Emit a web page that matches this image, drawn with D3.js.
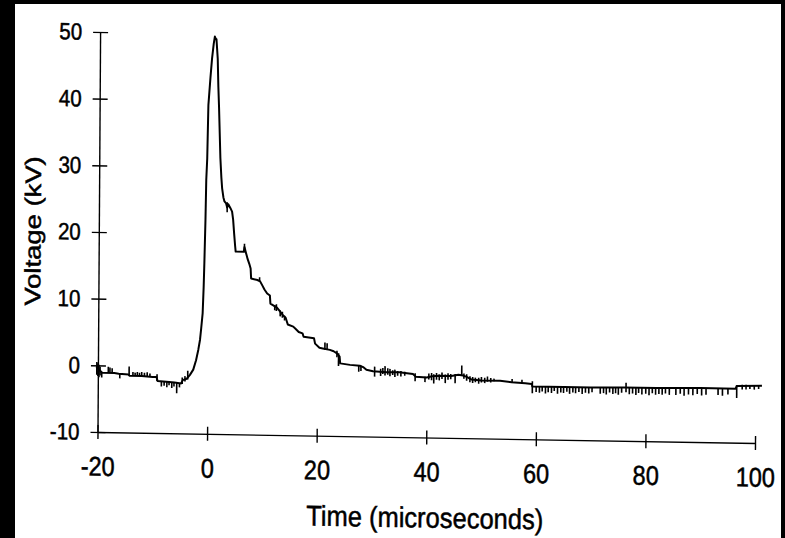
<!DOCTYPE html>
<html>
<head>
<meta charset="utf-8">
<script src="https://cdn.jsdelivr.net/npm/d3@7"></script>
<style>
  html, body { margin: 0; padding: 0; background: #000; }
  svg { display: block; }
  text { font-family: "Liberation Sans", Arial, Helvetica, sans-serif; fill: #000; stroke: #000; stroke-width: 0.45px; }
</style>
</head>
<body>
<div id="chart"></div>
<script>
// Voltage pulse
var timeUs = [
  -20.3, -19.9, -19.5, -19.2, -17.0, -16.2, -14.4, -14.2, -12.0, -10.0,
  -9.3, -9.1, -7.5, -6.0, -4.8, -4.5, -3.8, -3.2, -2.6, -2.1,
  -1.7, -1.4, -1.2, -0.95, -0.8, -0.7, -0.55, -0.45, -0.3, -0.15,
  0.2, 0.46, 0.75, 0.95, 1.1, 1.25, 1.5, 1.65, 1.8, 2.1,
  2.3, 2.45, 2.7, 2.9, 3.2, 3.4, 3.6, 4.0, 4.3, 4.5,
  4.7, 4.9, 5.0, 6.5, 6.6, 6.9, 7.2, 7.5, 7.75, 7.85,
  9.0, 9.5, 9.9, 10.3, 10.8, 11.3, 11.4, 12.0, 12.6, 13.2,
  13.8, 14.2, 14.6, 15.6, 16.1, 16.6, 17.3, 17.5, 19.4, 19.6,
  20.4, 21.0, 22.3, 23.0, 23.6, 24.1, 24.2, 26.0, 27.8, 28.4,
  29.0, 30.2, 32.7, 35.0, 36.4, 37.5, 38.0, 40.0, 41.0, 42.4,
  44.5, 45.8, 46.6, 47.3, 48.2, 50.0, 53.4, 55.5, 58.0, 59.2,
  59.3, 65.0, 70.0, 76.0, 82.0, 90.0, 96.4, 96.6, 101.2
];
var voltKV = [
  -0.2, -0.5, -0.9, -1.1, -1.1, -1.2, -1.3, -1.5, -1.5, -1.6,
  -1.6, -2.2, -2.3, -2.4, -2.5, -2.0, -1.8, -1.2, -0.4, 1.0,
  2.6, 4.1, 5.8, 8.1, 12.0, 15.6, 22.0, 28.1, 31.3, 39.3,
  43.5, 46.3, 48.5, 49.6, 49.3, 49.2, 46.3, 42.0, 38.9, 31.4,
  28.5, 26.9, 25.5, 24.9, 24.6, 24.0, 24.5, 23.9, 23.4, 22.2,
  20.1, 18.2, 17.4, 17.4, 18.1, 17.2, 16.3, 15.6, 14.9, 13.4,
  13.2, 13.0, 12.4, 11.8, 11.2, 10.9, 9.7, 9.4, 9.1, 8.5,
  7.9, 7.6, 6.6, 6.3, 5.9, 5.5, 5.3, 4.8, 4.6, 3.8,
  3.2, 3.1, 2.9, 2.7, 2.4, 1.9, 0.9, 0.7, 0.6, 0.4,
  0.0, -0.2, -0.3, -0.3, -0.4, -0.5, -0.9, -1.0, -0.8, -0.7,
  -0.7, -0.5, -0.6, -0.8, -1.2, -1.3, -1.3, -1.5, -1.6, -1.7,
  -2.1, -2.1, -2.1, -2.0, -2.0, -1.9, -1.9, -1.5, -1.4
];

// noise spikes on the trace: time, lowest and highest voltage
var spikeTime = [
  -20.2, -20.0, -19.8, -19.6, -19.3, -18.1, -17.8, -17.4, -16.0, -14.3,
  -13.6, -13.2, -12.8, -12.4, -12.0, -11.5, -11.0, -10.5, -9.2, -8.4,
  -7.9, -7.4, -7.0, -6.5, -6.1, -5.6, -5.1, -4.6, -4.1, -3.6,
  3.4, 6.6, 9.4, 12.2, 12.5, 13.2, 13.6, 14.0, 21.4, 21.8,
  23.6, 23.9, 27.6, 28.0,
  30.5, 31.6, 32.0, 32.4, 32.9, 33.3, 33.8, 34.2, 34.7, 35.3,
  36.0, 37.9, 39.7, 40.4, 40.9, 41.3, 41.8, 42.3, 42.8, 43.4,
  43.9, 44.4, 45.2, 46.4, 46.8, 47.3, 47.9, 48.4, 48.9, 49.5,
  50.0, 50.6, 51.1, 51.7, 52.3, 55.6, 57.4, 59.3,
  60.0, 60.6, 61.1, 61.7, 62.2, 62.8, 63.3, 63.9, 64.5, 65.0,
  65.6, 66.1, 66.7, 67.2, 67.8, 68.4, 69.0, 69.6, 70.2, 71.7,
  72.3, 72.8, 73.4, 74.0, 74.5, 75.0, 75.6, 76.4, 77.0, 77.6,
  78.2, 78.7, 79.3, 80.0, 80.6, 81.2, 81.8, 82.4, 83.0, 83.6,
  84.3, 85.5, 86.3, 87.0, 87.8, 88.6, 89.4, 90.2, 91.0, 93.2,
  94.0, 95.0, 96.6, 97.6, 98.3, 99.0, 99.8, 100.6
];
var spikeLow = [
  -1.4, -1.6, -1.8, -1.5, -1.8, -1.1, -1.1, -1.1, -1.9, -1.5,
  -1.5, -1.5, -1.5, -1.5, -1.5, -1.6, -1.6, -1.6, -2.2, -3.0,
  -2.9, -3.1, -2.8, -3.2, -3.0, -4.0, -3.1, -2.6, -2.2, -1.9,
  23.3, 17.4, 13.0, 8.7, 8.6, 7.8, 7.6, 7.2, 2.9, 2.9,
  1.8, 0.5, -0.3, -0.2,
  -1.0, -0.9, -0.6, -0.8, -0.7, -0.9, -0.7, -1.0, -0.8, -0.9,
  -0.8, -1.6, -1.7, -1.3, -1.4, -1.9, -1.3, -1.4, -1.2, -1.8,
  -1.3, -1.2, -1.8, -0.6, -1.1, -1.4, -1.6, -1.7, -1.6, -1.8,
  -1.6, -1.7, -1.5, -1.6, -1.4, -1.5, -1.6, -3.1,
  -2.9, -3.0, -2.8, -3.1, -2.9, -3.0, -2.7, -3.1, -2.9, -3.0,
  -2.8, -3.1, -2.9, -3.0, -2.8, -3.1, -2.9, -3.0, -2.8, -3.0,
  -2.9, -3.1, -2.8, -3.0, -2.9, -3.1, -2.8, -2.7, -3.0, -2.9,
  -3.1, -2.8, -3.0, -2.9, -3.1, -2.8, -3.0, -2.9, -3.0, -2.8,
  -3.0, -3.0, -2.8, -3.1, -2.9, -3.0, -2.8, -3.0, -2.9, -2.9,
  -3.0, -2.8, -3.3, -2.0, -2.0, -1.9, -2.0, -1.9
];
var spikeHigh = [
  0.5, 0.3, 0.1, -0.2, -1.1, -0.2, -0.3, -0.4, -1.2, -0.1,
  -0.9, -1.0, -0.9, -1.0, -0.9, -1.0, -0.9, -1.1, -1.2, -2.2,
  -2.3, -2.3, -2.3, -2.4, -2.4, -2.4, -2.5, -1.6, -1.4, -0.6,
  24.8, 18.6, 13.6, 9.5, 9.6, 8.7, 8.5, 7.9, 4.0, 3.9,
  2.8, 2.4, 0.6, 0.6,
  0.5, 0.2, 0.3, 0.6, 0.3, 0.2, 0.0, 0.1, -0.1, -0.1,
  -0.2, -0.4, -0.9, -0.4, -0.3, -0.5, -0.3, -0.5, -0.2, -0.5,
  -0.3, -0.4, -0.4, 0.9, -0.3, -0.4, -0.7, -0.8, -0.9, -0.9,
  -0.8, -0.9, -0.7, -0.9, -1.0, -1.0, -1.1, -1.3,
  -2.1, -2.1, -2.1, -2.1, -2.1, -2.1, -2.1, -2.1, -2.1, -2.1,
  -2.1, -2.1, -2.1, -2.1, -2.1, -2.1, -2.1, -2.1, -2.1, -2.1,
  -2.1, -2.1, -2.1, -2.0, -2.0, -2.0, -2.0, -1.3, -2.0, -2.0,
  -2.0, -2.0, -2.0, -2.0, -2.0, -2.0, -2.0, -2.0, -2.0, -2.0,
  -2.0, -2.0, -2.0, -2.0, -2.0, -1.9, -1.9, -1.9, -1.9, -1.9,
  -1.9, -1.9, -1.4, -1.3, -1.3, -1.3, -1.3, -1.3
];

var xTicks = [-20, 0, 20, 40, 60, 80, 100];
var yTicks = [-10, 0, 10, 20, 30, 40, 50];
var xTitle = "Time (microseconds)";
var yTitle = "Voltage (kV)";

var svgWidth = 785;
var svgHeight = 538;
var width = 657.5;
var height = 400;

var svg = d3.select("#chart")
  .append("svg")
  .attr("width", svgWidth)
  .attr("height", svgHeight);

// white paper inside the black scan border
svg.append("rect")
  .attr("x", 15)
  .attr("y", 4)
  .attr("width", 766)
  .attr("height", 534)
  .attr("fill", "#fff");

// the scan is slightly skewed, so the whole plot is too
var chartGroup = svg.append("g")
  .attr("transform", "matrix(1, 0.0167, -0.0065, 1, 100.1, 32)");

var xScale = d3.scaleLinear().domain([-20, 100]).range([0, width]);
var yScale = d3.scaleLinear().domain([-10, 50]).range([height, 0]);

var textStretch = "scale(1, 1.15)";
// plain hyphen for negatives, like the original
var plainNum = d => String(d);

// y axis, ticks crossing the line
var yAxisG = chartGroup.append("g")
  .call(d3.axisLeft(yScale).tickValues(yTicks).tickFormat(plainNum)
    .tickSize(7).tickSizeOuter(0).tickPadding(11));
yAxisG.select(".domain").attr("stroke", "#000").attr("stroke-width", 1.4);
yAxisG.selectAll(".tick line").attr("x1", 8).attr("stroke", "#000").attr("stroke-width", 1.4);
yAxisG.selectAll(".tick text")
  .style("font-size", "20.5px")
  .attr("transform", textStretch);

// x axis
var xAxisG = chartGroup.append("g")
  .attr("transform", `translate(0, ${height})`)
  .call(d3.axisBottom(xScale).tickValues(xTicks).tickFormat(plainNum)
    .tickSize(7).tickSizeOuter(0));
xAxisG.select(".domain").attr("stroke", "#000").attr("stroke-width", 1.4);
xAxisG.selectAll(".tick line").attr("y1", -7).attr("stroke", "#000").attr("stroke-width", 1.4);
xAxisG.selectAll(".tick text")
  .attr("dy", null)
  .attr("y", 38)
  .style("font-size", "23.5px")
  .attr("transform", textStretch);
svg.selectAll(".tick text").attr("font-family", null);

// axis titles
chartGroup.append("text")
  .attr("transform", "translate(" + (width / 2 - 1) + "," + (height + 90) + ") scale(1, 1.12)")
  .attr("text-anchor", "middle")
  .style("font-size", "25.5px")
  .text(xTitle);

chartGroup.append("text")
  .attr("transform", "translate(-66, 200) scale(1, 1.22) rotate(-90)")
  .attr("text-anchor", "middle")
  .attr("dy", "0.35em")
  .style("font-size", "22.5px")
  .text(yTitle);

// main trace
var trace = timeUs.map((t, i) => ({ t: t, v: voltKV[i] }));
var line = d3.line()
  .x(d => xScale(d.t))
  .y(d => yScale(d.v));

chartGroup.append("path")
  .datum(trace)
  .attr("fill", "none")
  .attr("stroke", "#000")
  .attr("stroke-width", 2)
  .attr("stroke-linejoin", "round")
  .attr("d", line);

// noise spikes
chartGroup.append("g")
  .selectAll("line")
  .data(spikeTime)
  .enter()
  .append("line")
  .attr("x1", d => xScale(d))
  .attr("x2", d => xScale(d))
  .attr("y1", (d, i) => yScale(spikeLow[i]))
  .attr("y2", (d, i) => yScale(spikeHigh[i]))
  .attr("stroke", "#000")
  .attr("stroke-width", 1.6);
</script>
</body>
</html>
